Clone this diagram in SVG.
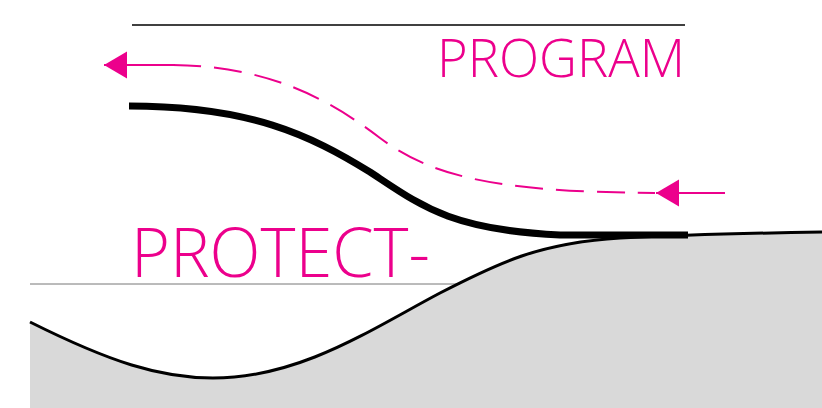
<svg xmlns="http://www.w3.org/2000/svg" width="822" height="408" viewBox="0 0 822 408">
<defs>
<style>
.lbl{font-family:"Open Sans","Liberation Sans",sans-serif;font-weight:300;fill:#ec008c}
.pink{stroke:#ec008c;stroke-width:2;fill:none}
</style>
<marker id="ah" markerWidth="24" markerHeight="28" refX="23" refY="13.5" orient="auto" markerUnits="userSpaceOnUse" viewBox="0 0 24 27">
<path d="M23,13.5 L0,0 L0,27 Z" fill="#ec008c"/>
</marker>
</defs>
<rect width="822" height="408" fill="#fff"/>
<g id="ground">
<path d="M30,322 C110,362 160,378 213,378 C300,378 370,330 440,293 C500,262 540,243 620,238 C680,235 760,233 822,232 L822,408 L30,408 Z" fill="#d9d9d9"/>
<line x1="30" y1="284" x2="460" y2="284" stroke="#777" stroke-width="1"/>
<path d="M30,322 C110,362 160,378 213,378 C300,378 370,330 440,293 C500,262 540,243 620,238 C680,235 760,233 822,232" fill="none" stroke="#000" stroke-width="3"/>
</g>
<g id="top-line">
<line x1="132" y1="25" x2="685" y2="25" stroke="#000" stroke-width="1.5"/>
</g>
<g id="protection">
<path d="M129,106 C250,106 310,135 370,172 C420,205 450,230 560,235 L688,235" fill="none" stroke="#000" stroke-width="7"/>
</g>
<g id="connectors">
<path class="pink" d="M175,65 L104,65" marker-end="url(#ah)"/>
<path class="pink" d="M173,65 C270,66 330,100 380,138 C430,175 490,192 655,193" stroke-dasharray="28,13"/>
<path class="pink" d="M725,193 L656,193" marker-end="url(#ah)"/>
</g>
<g id="label-program">
<text class="lbl" x="437" y="77" font-size="54" textLength="248" lengthAdjust="spacingAndGlyphs">PROGRAM</text>
</g>
<g id="label-protect">
<text class="lbl" x="131" y="277" font-size="69" textLength="299" lengthAdjust="spacingAndGlyphs">PROTECT-</text>
</g>
</svg>
